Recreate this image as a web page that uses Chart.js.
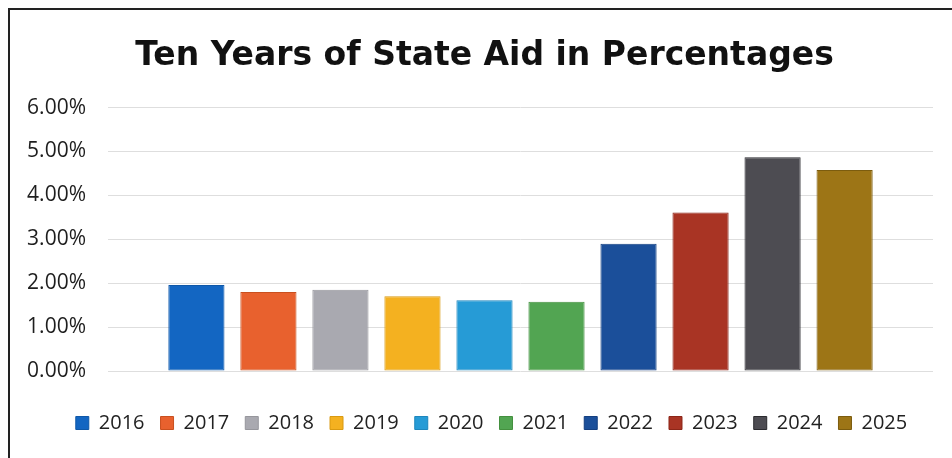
<!DOCTYPE html>
<html>
<head>
<meta charset="utf-8">
<title>Ten Years of State Aid in Percentages</title>
<script src="https://cdn.jsdelivr.net/npm/chart.js@4.4.1/dist/chart.umd.min.js"></script>
<style>
    html, body { margin: 0; padding: 0; background: #ffffff; }
    #wrap { position: relative; width: 952px; height: 458px; overflow: hidden; }
    #chart { position: absolute; left: 0; top: 0; }
    #frame {
        position: absolute; left: 8px; top: 8px; width: 960px; height: 470px;
        border-top: 2px solid #222; border-left: 2px solid #222;
        pointer-events: none;
    }
</style>
</head>
<body>
<div id="wrap">
    <canvas id="chart" width="952" height="458"></canvas>
    <div id="frame"></div>
</div>
<script>
// Chart data
const years = ['2016', '2017', '2018', '2019', '2020', '2021', '2022', '2023', '2024', '2025'];
const aidPercent = [1.96, 1.80, 1.85, 1.70, 1.61, 1.58, 2.90, 3.61, 4.87, 4.58];
const yTicks = [0, 1, 2, 3, 4, 5, 6];

const barColors = ['#1366c2', '#e8612e', '#a9a9b0', '#f4b120', '#269bd6', '#52a552', '#1b4f9a', '#a93424', '#4d4c52', '#9d7516'];
const edgeColors = ['#0f58a8', '#c9501f', '#96969c', '#d99a12', '#1d86bd', '#44903f', '#143f80', '#8c2618', '#2a2a2e', '#7c5c0e'];

// One category, one dataset per year (like the spreadsheet chart)
const datasets = years.map((year, i) => ({
    label: year,
    data: [aidPercent[i]],
    backgroundColor: barColors[i],
    borderColor: edgeColors[i],
    borderWidth: 1,
    borderSkipped: false,
    categoryPercentage: 0.873,
    barPercentage: 0.78
}));

// Nudge title and legend to the right so they sit where the original ones are
const boxShift = {
    id: 'boxShift',
    afterLayout(chart) {
        if (chart.legend) {
            chart.legend.left += 14;
            chart.legend.right += 14;
        }
        if (chart.titleBlock) {
            chart.titleBlock.left += 7;
            chart.titleBlock.right += 7;
        }
    }
};

new Chart(document.getElementById('chart'), {
    type: 'bar',
    data: {
        labels: [''],
        datasets: datasets
    },
    plugins: [boxShift],
    options: {
        responsive: false,
        animation: false,
        layout: {
            padding: { top: 0, left: 22, right: 19, bottom: 15 }
        },
        plugins: {
            title: {
                display: true,
                text: 'Ten Years of State Aid in Percentages',
                color: '#111111',
                font: { family: 'DejaVu Sans', weight: 'bold', size: 33 },
                padding: { top: 37, bottom: 31 }
            },
            legend: {
                position: 'bottom',
                labels: {
                    boxWidth: 13,
                    boxHeight: 13,
                    padding: 16,
                    color: '#222222',
                    font: { family: 'Open Sans', size: 20 }
                }
            },
            tooltip: { enabled: false }
        },
        scales: {
            x: {
                display: true,
                grid: { display: false },
                border: { display: false },
                ticks: { display: false },
                afterFit: (scale) => { scale.height = 26; }
            },
            y: {
                min: 0,
                max: 6,
                afterBuildTicks: (scale) => {
                    scale.ticks = yTicks.map(v => ({ value: v }));
                },
                afterFit: (scale) => { scale.width = 86; },
                grid: {
                    color: '#dedede',
                    lineWidth: 1,
                    drawTicks: false
                },
                border: { display: false },
                ticks: {
                    padding: 22,
                    color: '#1e1e1e',
                    font: { family: 'Open Sans', size: 21 },
                    callback: (value) => value.toFixed(2) + '%'
                }
            }
        }
    }
});
</script>
</body>
</html>
